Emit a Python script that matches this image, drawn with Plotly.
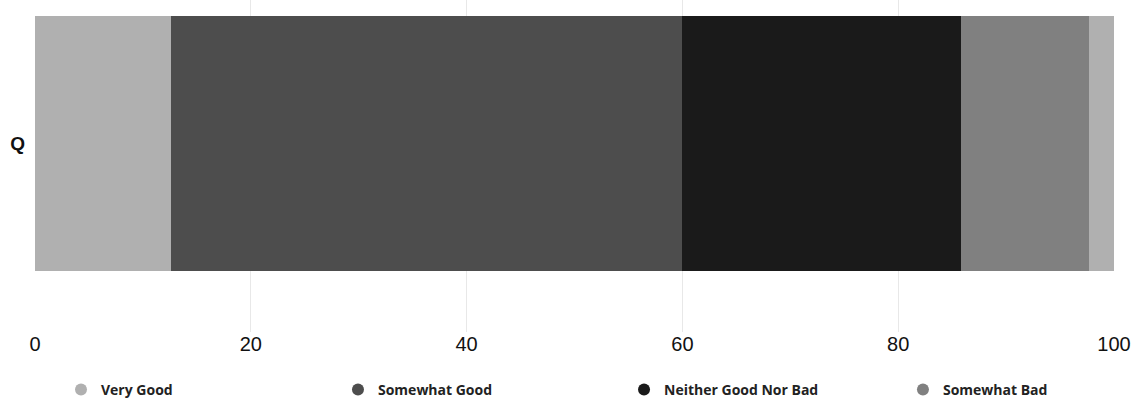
import plotly.graph_objects as go

categories = ["Q"]
series_names = ["Very Good", "Somewhat Good", "Neither Good Nor Bad", "Somewhat Bad", "Very Bad"]
series_values = [[12.6], [47.4], [25.8], [11.9], [2.3]]
series_colors = ["#b0b0b0", "#4d4d4d", "#1a1a1a", "#808080", "#b0b0b0"]
legend_names = ["Very Good", "Somewhat Good", "Neither Good Nor Bad", "Somewhat Bad"]
x_ticks = [0, 20, 40, 60, 80, 100]

fig = go.Figure()

# stacked horizontal bars, one per response level
for name, vals, color in zip(series_names, series_values, series_colors):
    fig.add_trace(go.Bar(
        y=[0] * len(categories), x=vals, name=name, orientation="h",
        marker=dict(color=color, line=dict(width=0)),
        width=1.0, showlegend=False, legendgroup=name,
    ))

# circular legend swatches, each in its own evenly spaced legend box
legend_x = [0.0241, 0.2808, 0.5459, 0.8044]
legend_ids = ["legend", "legend2", "legend3", "legend4"]
legend_font = dict(family="Open Sans, sans-serif", size=14, color="#222222", weight="bold")
for i, name in enumerate(legend_names):
    color = series_colors[series_names.index(name)]
    fig.add_trace(go.Scatter(
        x=[None], y=[None], mode="markers", name=name, legendgroup=name,
        legend=legend_ids[i],
        marker=dict(symbol="circle", size=14, color=color),
    ))

legend_layout = {}
for lid, lx in zip(legend_ids, legend_x):
    legend_layout[lid] = dict(
        orientation="h", x=lx, xanchor="left", y=-0.1747, yanchor="middle",
        font=legend_font, itemsizing="constant", bgcolor="rgba(0,0,0,0)",
    )

fig.update_layout(
    barmode="stack",
    width=1132, height=399,
    margin=dict(l=35, r=18, t=0, b=67, autoexpand=False),
    paper_bgcolor="white", plot_bgcolor="white",
    bargap=0,
    xaxis=dict(
        range=[0, 100], tickvals=x_ticks, ticktext=[str(t) for t in x_ticks],
        showgrid=True, gridcolor="#e8e8e8", gridwidth=1, zeroline=False,
        showline=False, ticks="", ticklabelstandoff=-2,
        tickfont=dict(family="Liberation Sans, Arial, sans-serif", size=20, color="#111111"),
    ),
    yaxis=dict(
        range=[-0.739, 0.5627], tickvals=[0], ticktext=categories,
        showgrid=False, zeroline=False, showline=False, ticks="",
        ticklabelstandoff=9,
        tickfont=dict(family="Liberation Sans, Arial, sans-serif", size=19, color="#111111", weight="bold"),
    ),
    showlegend=True,
    **legend_layout,
)

fig.write_html("out.html")
